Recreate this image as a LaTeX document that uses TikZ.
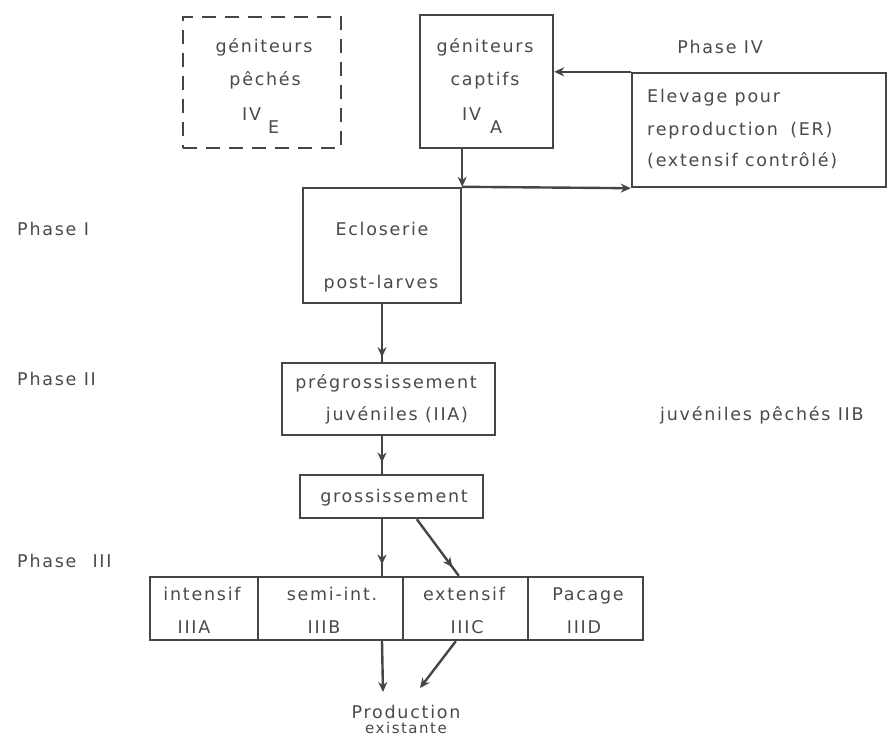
\documentclass[tikz,border=0pt]{standalone}
\usepackage{fontspec}
\setmainfont[LetterSpace=10]{DejaVu Sans}
\usetikzlibrary{arrows.meta,decorations.markings,calc}
\definecolor{ink}{HTML}{454545}
\definecolor{inktext}{HTML}{4a4a4a}
\begin{document}
\begin{tikzpicture}[x=1pt,y=-1pt,
  every node/.style={text=inktext, font=\fontsize{17.5}{21}\selectfont},
  box/.style={draw=ink, line width=2.4pt, inner sep=0pt},
  txt/.style={anchor=base, inner sep=0pt},
  lbl/.style={anchor=base west, inner sep=0pt},
  link/.style={draw=ink, line width=2.4pt},
  tip/.style={-{Stealth[length=10pt,width=9pt]}},
  arrowat/.style={decoration={markings, mark=at position #1 with {\arrow{Stealth[length=10pt,width=9pt]}}}, postaction={decorate}},
]
\useasboundingbox (0,0) rectangle (888,736);

% boxes
\node[box, dashed, dash pattern=on 14pt off 9pt, minimum width=158pt, minimum height=131pt] (gp) at (262,82.5) {};
\node[box, minimum width=133pt, minimum height=133pt] (gc) at (486.5,81.5) {};
\node[box, minimum width=254pt, minimum height=114pt] (ER) at (759,130) {};
\node[box, minimum width=158pt, minimum height=115pt] (eclo) at (382,245.5) {};
\node[box, minimum width=213pt, minimum height=72pt] (pre) at (388.5,399) {};
\node[box, minimum width=183pt, minimum height=43pt] (gro) at (391.5,496.5) {};
\node[box, minimum width=108pt, minimum height=63pt] (rA) at (204,608.5) {};
\node[box, minimum width=145pt, minimum height=63pt] (rB) at (330.5,608.5) {};
\node[box, minimum width=125pt, minimum height=63pt] (rC) at (465.5,608.5) {};
\node[box, minimum width=115pt, minimum height=63pt] (rD) at (585.5,608.5) {};

% box texts
\node[txt] (gp1) at (264,52) {géniteurs};
\node[txt] (gp2) at (265,85) {pêchés};
\node[lbl] (gp3) at (242,120) {IV};
\node[lbl] (gp4) at (268,133) {E};
\node[txt] (gc1) at (485,52) {géniteurs};
\node[txt] (gc2) at (485,85) {captifs};
\node[lbl] (gc3) at (462,120) {IV};
\node[lbl] (gc4) at (490,133) {A};
\node[lbl] (er1) at (647,102) {Elevage pour};
\node[lbl] (er2) at (647,135) {reproduction\hspace{0.7em}(ER)};
\node[lbl] (er3) at (647,166) {(extensif contrôlé)};
\node[txt] (ec1) at (382,235) {Ecloserie};
\node[txt] (ec2) at (381,288) {post-larves};
\node[txt] (pr1) at (386,388) {prégrossissement};
\node[txt] (pr2) at (397,420) {juvéniles (IIA)};
\node[txt] (gr1) at (394,502) {grossissement};
\node[txt] (ra1) at (202,600) {intensif};
\node[txt] (ra2) at (194,633) {IIIA};
\node[txt] (rb1) at (332,600) {semi-int.};
\node[txt] (rb2) at (324,633) {IIIB};
\node[txt] (rc1) at (464,600) {extensif};
\node[txt] (rc2) at (467,633) {IIIC};
\node[txt] (rd1) at (588,600) {Pacage};
\node[txt] (rd2) at (584,633) {IIID};

% free labels
\node[txt] (ph4) at (720,53) {Phase IV};
\node[lbl] (ph1) at (17,235) {Phase I};
\node[lbl] (ph2) at (17,385) {Phase II};
\node[lbl] (ph3) at (17,567) {Phase\hspace{0.5em} III};
\node[lbl] (jp) at (660,420) {juvéniles pêchés IIB};
\node[txt] (prod1) at (406,718) {Production};
\node[txt, font=\fontsize{15}{18}\selectfont] (prod2) at (406,733) {existante};

% connectors
\coordinate (pv) at (383,692);
\coordinate (pd) at (420,688);
\draw[link,tip] (eclo.north east |- gc.south) -- (eclo.north east);
\draw[link,tip] (eclo.north east) -- (ER.south west);
\draw[link,tip] (ER.north west) -- (gc.east |- ER.north west);
\draw[link,arrowat=0.92] (eclo.south) -- (eclo.south |- pre.north);
\draw[link,arrowat=0.7] (eclo.south |- pre.south) -- (eclo.south |- gro.north);
\draw[link,arrowat=0.8] (eclo.south |- gro.south) -- (eclo.south |- rB.north);
\draw[link,arrowat=0.85] ($(gro.south west)+(118,0)$) -- ($(rC.north west)+(57,0)$);
\draw[link,tip] (eclo.south |- rB.south) -- (pv);
\draw[link,tip] ($(rC.south west)+(54,0)$) -- (pd);
\end{tikzpicture}
\end{document}
